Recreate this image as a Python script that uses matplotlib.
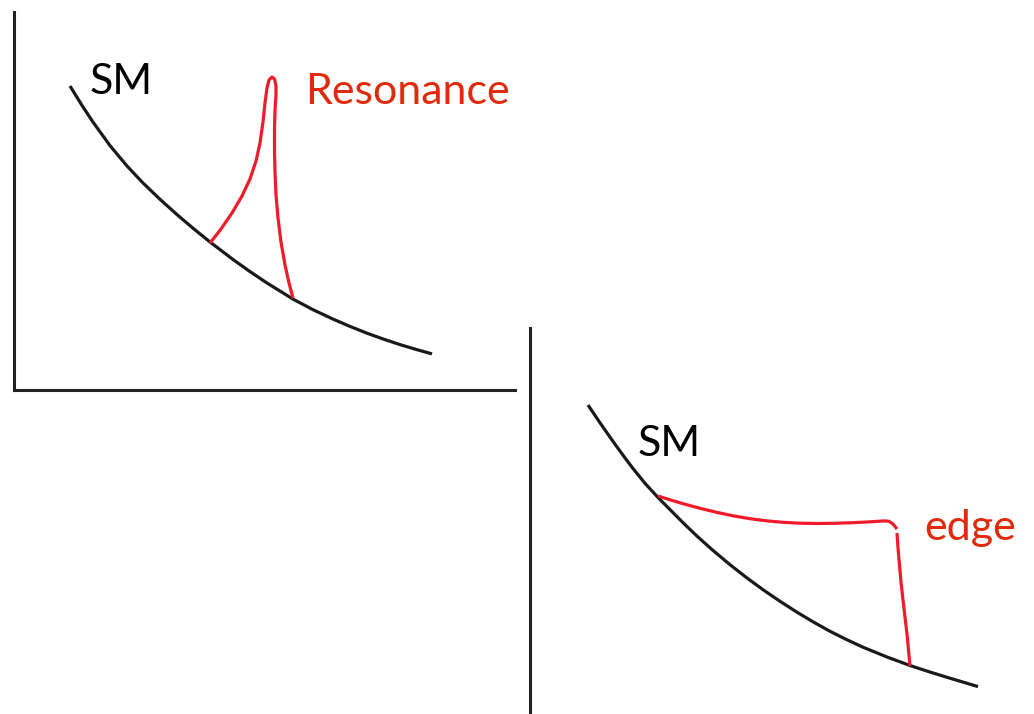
import matplotlib.pyplot as plt

# sketch curves (pixel units, y grows downward)
sm1_x = [70, 82, 93, 110, 127, 143, 160, 177, 193, 210, 233, 250, 267, 293,
         313, 333, 350, 367, 384, 400, 416, 432]
sm1_y = [86, 105.4, 122.1, 145.6, 166.0, 183.0, 199.3, 214.6, 228.2, 242.0, 259.5, 271.6, 283.0, 299.1,
         309.7, 319.1, 326.4, 333.2, 339.3, 344.6, 349.4, 353.9]

res_x = [210, 221, 232, 242, 250, 256, 260, 263, 265, 267, 269, 272, 274.5, 276,
         276, 275, 274.5, 274.5, 275, 276, 278, 281, 285, 289, 293]
res_y = [243, 229, 213, 196, 179, 161, 143, 122, 103, 88, 80, 77, 79, 86,
         95, 110, 130, 150, 172, 195, 218, 242, 265, 283, 298]

sm2_x = [588, 600, 613, 623, 633, 645, 658, 670, 683, 697, 712, 730, 747, 763, 780,
         797, 813, 830, 847, 863, 887, 910, 928, 947, 963, 978]
sm2_y = [405, 422.8, 441.4, 455.2, 468.5, 483.3, 497.5, 509.6, 522.7, 536.1, 549.6, 564.7, 578.0, 589.7, 601.3,
         612.2, 621.8, 631.3, 639.8, 647.2, 657.0, 665.5, 671.4, 677.3, 682.1, 686.6]

edge_top_x = [658, 670, 683, 700, 717, 733, 750, 767, 783, 800, 817, 833, 850, 867, 885, 889, 893, 897]
edge_top_y = [496, 499.8, 503.7, 508.3, 512.4, 515.8, 518.7, 520.9, 522.3, 523.2, 523.5, 523.3, 522.8, 522.0,
              520.9, 521.3, 524, 529]
edge_drop_x = [897, 898, 899.5, 901, 903, 905, 907, 908.5, 910]
edge_drop_y = [533, 548, 565, 582, 600, 617, 634, 650, 666]

BLACK = '#1a1a1a'
RED = '#ee1c2a'
TEXT_RED = '#e02a0c'
W, H = 1034, 714

fig = plt.figure(figsize=(W / 100, H / 100), dpi=100)

# top-left panel
ax1 = fig.add_axes([14 / W, 1 - 390 / H, (515 - 14) / W, (390 - 12) / H])
ax1.set_xlim(14, 515)
ax1.set_ylim(390, 12)

# bottom-right panel (only a vertical axis)
ax2 = fig.add_axes([530 / W, 0, (W - 530) / W, (H - 328) / H])
ax2.set_xlim(530, W)
ax2.set_ylim(H, 328)

for ax, shown in ((ax1, ('left', 'bottom')), (ax2, ('left',))):
    ax.patch.set_alpha(0)
    ax.set_xticks([])
    ax.set_yticks([])
    for name, sp in ax.spines.items():
        sp.set_visible(name in shown)
        sp.set_linewidth(2.2)
        sp.set_color('#222222')

line_kw = dict(lw=2.3, solid_capstyle='butt', solid_joinstyle='round', clip_on=False)

ax1.plot(sm1_x, sm1_y, color=BLACK, **line_kw)
ax1.plot(res_x, res_y, color=RED, **line_kw)

ax2.plot(sm2_x, sm2_y, color=BLACK, **line_kw)
ax2.plot(edge_top_x, edge_top_y, color=RED, **line_kw)
ax2.plot(edge_drop_x, edge_drop_y, color=RED, **line_kw)

txt = dict(family='Lato', fontsize=31, va='baseline', ha='left')
ax1.text(90, 94, 'SM', color='black', **txt)
ax1.text(305, 104, 'Resonance', color=TEXT_RED, **txt)
ax2.text(638, 456, 'SM', color='black', **txt)
ax2.text(924, 540, 'edge', color=TEXT_RED, **txt)

fig.savefig('out.png', dpi=100)
